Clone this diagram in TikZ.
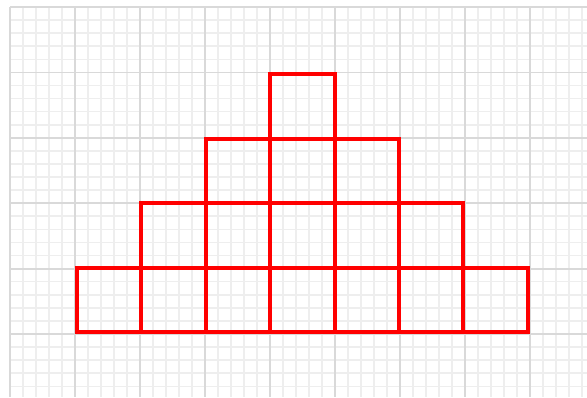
\documentclass[tikz,border=0pt]{standalone}
\usetikzlibrary{positioning}
\tikzset{
  minor/.style={draw=gray!13, line width=1.6pt},
  major/.style={draw=gray!30, line width=1.8pt},
  cell/.style={draw=red, line width=4pt, minimum size=64.4pt, inner sep=0pt, outer sep=0pt},
}

\begin{document}
\begin{tikzpicture}[x=1pt, y=-1pt, node distance=0pt]
    \useasboundingbox (0,0) rectangle (587,397);
    \clip (0,0) rectangle (587,397);
    % squared paper
    \foreach \i in {0,...,44}
        \draw[minor] ({10+13*\i},7) -- ({10+13*\i},397);
    \foreach \j in {0,...,30}
        \draw[minor] (10,{7+13.08*\j}) -- (587,{7+13.08*\j});
    \foreach \i in {0,...,8}
        \draw[major] ({10+65*\i},7) -- ({10+65*\i},397);
    \foreach \j in {0,...,5}
        \draw[major] (10,{7+65.4*\j}) -- (587,{7+65.4*\j});
    % bottom row
    \node[cell] (r1c1) at (109.2,299.8) {};
    \node[cell, right=of r1c1] (r1c2) {};
    \node[cell, right=of r1c2] (r1c3) {};
    \node[cell, right=of r1c3] (r1c4) {};
    \node[cell, right=of r1c4] (r1c5) {};
    \node[cell, right=of r1c5] (r1c6) {};
    \node[cell, right=of r1c6] (r1c7) {};
    % second row
    \node[cell, above=of r1c2] (r2c1) {};
    \node[cell, right=of r2c1] (r2c2) {};
    \node[cell, right=of r2c2] (r2c3) {};
    \node[cell, right=of r2c3] (r2c4) {};
    \node[cell, right=of r2c4] (r2c5) {};
    % third row
    \node[cell, above=of r2c2] (r3c1) {};
    \node[cell, right=of r3c1] (r3c2) {};
    \node[cell, right=of r3c2] (r3c3) {};
    % top
    \node[cell, above=of r3c2] (r4c1) {};
\end{tikzpicture}
\end{document}
